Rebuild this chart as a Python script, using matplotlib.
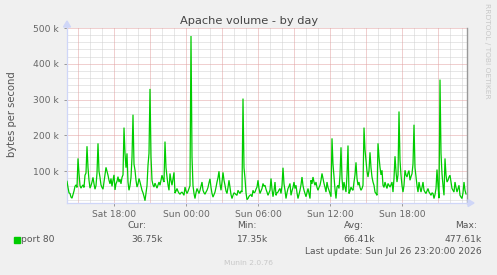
import matplotlib
matplotlib.use("Agg")
import matplotlib.pyplot as plt
from matplotlib.patches import Rectangle, Polygon
import numpy as np

# ---- data (bytes per second, in k) sampled every 5 minutes ----
start_hour = 14 + 5 / 60.0  # Sat 14:05, hours since Sat 00:00
step_hours = 5 / 60.0
values_k = [
    72, 55, 40, 38, 28, 25, 35, 45, 58, 62, 55, 136, 94, 60, 53, 58, 62, 55, 89, 95,
    170, 110, 75, 53, 60, 70, 83, 65, 50, 60, 95, 178, 100, 83, 62, 55, 50, 70, 90, 111,
    100, 89, 75, 65, 80, 58, 75, 90, 48, 65, 72, 85, 70, 78, 65, 83, 90, 222, 150, 110,
    150, 70, 47, 60, 83, 139, 258, 120, 103, 75, 56, 65, 80, 70, 58, 47, 40, 30, 18, 39,
    60, 117, 150, 330, 140, 75, 62, 56, 67, 60, 53, 62, 70, 61, 75, 89, 78, 70, 183, 110,
    84, 62, 47, 94, 75, 61, 80, 97, 39, 45, 52, 44, 39, 36, 40, 42, 38, 33, 56, 45,
    38, 44, 52, 60, 477.61, 140, 60, 38, 24, 40, 52, 45, 38, 47, 58, 70, 47, 40, 36, 42,
    47, 55, 68, 79, 55, 38, 28, 35, 42, 55, 70, 82, 100, 65, 47, 70, 97, 75, 61, 45,
    38, 55, 75, 55, 35, 24, 33, 40, 38, 35, 33, 47, 42, 38, 45, 42, 303, 110, 80, 40,
    21, 24, 30, 33, 35, 29, 47, 40, 42, 50, 56, 75, 52, 38, 45, 52, 66, 58, 61, 50,
    42, 33, 40, 47, 80, 50, 29, 45, 70, 33, 40, 42, 48, 52, 38, 60, 110, 65, 47, 24,
    40, 52, 58, 66, 33, 45, 55, 70, 52, 61, 40, 24, 35, 47, 62, 84, 60, 47, 38, 29,
    40, 52, 38, 24, 75, 65, 84, 70, 61, 70, 55, 47, 55, 61, 75, 94, 80, 66, 55, 42,
    70, 55, 47, 38, 29, 192, 120, 84, 50, 24, 56, 61, 52, 90, 167, 80, 47, 70, 55, 42,
    90, 172, 38, 45, 56, 50, 47, 70, 90, 125, 80, 61, 70, 55, 47, 52, 61, 222, 160, 131,
    100, 84, 102, 153, 110, 84, 70, 61, 42, 38, 33, 178, 140, 111, 90, 103, 61, 55, 70, 60,
    52, 66, 61, 56, 62, 70, 42, 80, 142, 100, 70, 90, 267, 130, 89, 60, 42, 61, 103, 90,
    84, 95, 102, 75, 85, 93, 120, 230, 110, 84, 60, 42, 70, 55, 42, 55, 70, 47, 42, 38,
    45, 52, 42, 38, 33, 40, 38, 24, 35, 52, 105, 60, 25, 356, 150, 93, 60, 33, 136, 90,
    70, 75, 84, 89, 70, 52, 47, 42, 70, 55, 42, 52, 61, 33, 28, 24, 40, 70, 47, 36.75,
]
y_ticks_k = [100, 200, 300, 400, 500]
y_tick_labels = ["100 k", "200 k", "300 k", "400 k", "500 k"]
x_ticks_h = [18, 24, 30, 36, 42]
x_tick_labels = ["Sat 18:00", "Sun 00:00", "Sun 06:00", "Sun 12:00", "Sun 18:00"]
series_name = "port 80"
stat_headers = ["Cur:", "Min:", "Avg:", "Max:"]
stat_values = ["36.75k", "17.35k", "66.41k", "477.61k"]
title = "Apache volume - by day"
y_label = "bytes per second"
last_update = "Last update: Sun Jul 26 23:20:00 2026"
footer = "Munin 2.0.76"
side_text = "RRDTOOL / TOBI OETIKER"

# ---- figure ----
W, H = 497, 275
fig = plt.figure(figsize=(W / 100, H / 100), dpi=100, facecolor="#F0F0F0")
plt.rcParams["font.family"] = ["DejaVu Sans"]

def fx(x):
    return x / W

def fy(y):
    return 1 - y / H

L, R, T, B = 67, 467, 28, 203
ax = fig.add_axes([fx(L), fy(B), (R - L) / W, (B - T) / H])
ax.set_facecolor("white")

t = start_hour + np.arange(len(values_k)) * step_hours
v = np.array(values_k) * 1000.0
ax.plot(t, v, color="#00CC00", lw=0.9, solid_joinstyle="miter", zorder=3)

x0 = start_hour
x1 = start_hour + 400 * step_hours
ax.set_xlim(x0, x1)
ax.set_ylim(11500, 500000)

dot = (0, (1, 1))
gkw = dict(lw=0.72, ls=dot)
# minor grid
for h in np.arange(15, 48, 1):
    if x0 < h < x1 and h % 3 != 0:
        ax.axvline(h, color="#D0D0D0", zorder=1, **gkw)
for yy in np.arange(20000, 500001, 20000):
    if yy % 100000 != 0:
        ax.axhline(yy, color="#D0D0D0", zorder=1, **gkw)
# major grid
for h in np.arange(15, 48, 3):
    if x0 < h < x1:
        ax.axvline(h, color="#E2A0A0", zorder=2, **gkw)
for yy in np.array(y_ticks_k) * 1000:
    ax.axhline(yy, color="#E2A0A0", zorder=2, **gkw)

ax.set_yticks(np.array(y_ticks_k) * 1000)
ax.set_yticklabels(y_tick_labels)
ax.set_xticks(x_ticks_h)
ax.set_xticklabels(x_tick_labels)
ax.tick_params(axis="both", length=2, width=0.7, colors="#999999",
               labelcolor="#666666", labelsize=6.6, pad=3)
ax.tick_params(axis="y", pad=4)

ax.spines["top"].set_visible(False)
ax.spines["right"].set_color("#999999")
ax.spines["right"].set_linewidth(1.0)
ax.spines["left"].set_color("#CFD6F8")
ax.spines["bottom"].set_color("#CFD6F8")
ax.spines["left"].set_linewidth(0.9)
ax.spines["bottom"].set_linewidth(0.9)

# axis arrows
fig.add_artist(Polygon([[fx(L - 3.5), fy(T - 1)], [fx(L + 3.5), fy(T - 1)], [fx(L), fy(T - 7)]],
                       closed=True, color="#CFD6F8", transform=fig.transFigure))
fig.add_artist(plt.Line2D([fx(L), fx(L)], [fy(T), fy(T - 2)], color="#CFD6F8", lw=0.9))
fig.add_artist(plt.Line2D([fx(R), fx(R + 2)], [fy(B), fy(B)], color="#CFD6F8", lw=0.9))
fig.add_artist(Polygon([[fx(R + 1), fy(B - 3.5)], [fx(R + 1), fy(B + 3.5)], [fx(R + 7), fy(B)]],
                       closed=True, color="#CFD6F8", transform=fig.transFigure))

# texts
fig.text(fx(249), fy(21), title, ha="center", va="center", fontsize=8.2, color="#444444")
fig.text(fx(12), fy(114), y_label, ha="center", va="center", rotation=90,
         fontsize=7.2, color="#555555")
fig.text(fx(487), fy(51), side_text, ha="center", va="center", rotation=270,
         fontsize=5.4, color="#C8C8C8")

# legend
fig.add_artist(Rectangle((fx(14), fy(243)), 6 / W, 6 / H, color="#00CC00",
                         transform=fig.transFigure))
fig.text(fx(21), fy(239.5), series_name, ha="left", va="center", fontsize=6.6, color="#555555")
header_right = [146, 256, 364, 477]
value_right = [163, 268, 375, 482]
for hx, vx, hs, vs in zip(header_right, value_right, stat_headers, stat_values):
    fig.text(fx(hx), fy(226), hs, ha="right", va="center", fontsize=6.6, color="#555555")
    fig.text(fx(vx), fy(239.5), vs, ha="right", va="center", fontsize=6.6, color="#555555")
fig.text(fx(482), fy(252), last_update, ha="right", va="center", fontsize=6.6, color="#555555")
fig.text(fx(248), fy(263), footer, ha="center", va="center", fontsize=5.4, color="#C8C8C8")

fig.savefig("out.png", dpi=100, facecolor=fig.get_facecolor())
